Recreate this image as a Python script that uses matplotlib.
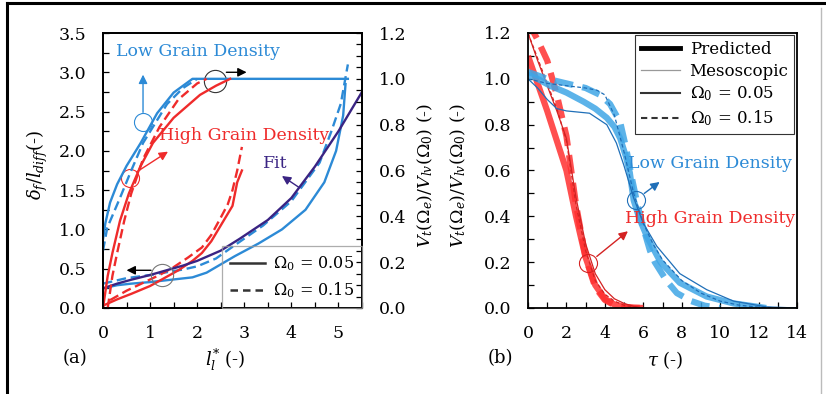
import matplotlib
matplotlib.use('Agg')
import matplotlib.pyplot as plt
from matplotlib.lines import Line2D
from matplotlib.ticker import MultipleLocator, FormatStrFormatter

plt.rcParams['font.family'] = ['DejaVu Serif']
plt.rcParams['mathtext.fontset'] = 'dejavuserif'

# ---------------- data: panel (a) ----------------
# right axis (upper curves): V_t/V_lv vs l*
a_blue_up05_x = [0, 0.05, 0.15, 0.3, 0.5, 0.8, 1.15, 1.5, 1.9, 5.2]
a_blue_up05_y = [0.30, 0.37, 0.46, 0.54, 0.62, 0.72, 0.85, 0.94, 1.0, 1.0]
a_blue_up15_x = [0.0, 0.09, 0.36, 0.6, 0.85, 1.36, 1.7, 2.0]
a_blue_up15_y = [0.25, 0.35, 0.48, 0.60, 0.72, 0.89, 0.96, 1.0]
a_red_up05_x = [0, 0.1, 0.2, 0.36, 0.55, 0.8, 1.06, 1.5, 2.06, 2.4, 2.7]
a_red_up05_y = [0, 0.14, 0.24, 0.38, 0.50, 0.62, 0.72, 0.83, 0.93, 0.97, 1.0]
a_red_up15_x = [0.1, 0.2, 0.3, 0.45, 0.6, 0.85, 1.2, 1.6, 2.0, 2.2]
a_red_up15_y = [0.0, 0.14, 0.24, 0.38, 0.50, 0.65, 0.79, 0.91, 0.98, 1.0]
# left axis (lower curves): delta_f/l_diff vs l*
a_fit_x = [0, 0.3, 0.6, 1.0, 1.35, 1.7, 2.0, 2.5, 2.9, 3.5, 4.0, 4.5, 5.0, 5.5]
a_fit_y = [0.25, 0.31, 0.36, 0.42, 0.48, 0.54, 0.60, 0.73, 0.88, 1.12, 1.40, 1.80, 2.25, 2.75]
a_blue_lo05_x = [0, 0.3, 0.6, 1.0, 1.3, 1.6, 1.9, 2.2, 2.4, 2.8, 3.3, 3.8, 4.3, 4.7, 4.95, 5.1, 5.15]
a_blue_lo05_y = [0.25, 0.29, 0.31, 0.33, 0.35, 0.37, 0.39, 0.45, 0.52, 0.66, 0.82, 1.0, 1.25, 1.6, 2.0, 2.45, 2.85]
a_blue_lo15_x = [0, 0.5, 1.0, 1.3, 1.7, 2.0, 2.4, 2.8, 3.4, 4.0, 4.6, 4.85, 5.05, 5.2]
a_blue_lo15_y = [0.31, 0.38, 0.42, 0.45, 0.49, 0.53, 0.63, 0.80, 1.05, 1.36, 1.85, 2.25, 2.6, 3.1]
a_red_lo05_x = [0, 0.3, 0.6, 1.0, 1.3, 1.6, 1.9, 2.1, 2.3, 2.55, 2.75, 2.85, 2.95]
a_red_lo05_y = [0.03, 0.11, 0.18, 0.28, 0.38, 0.48, 0.60, 0.70, 0.85, 1.1, 1.3, 1.6, 1.75]
a_red_lo15_x = [0.15, 0.5, 0.85, 1.2, 1.5, 1.8, 2.1, 2.3, 2.5, 2.65, 2.75, 2.85, 2.95]
a_red_lo15_y = [0.10, 0.22, 0.32, 0.42, 0.52, 0.64, 0.77, 0.93, 1.15, 1.32, 1.5, 1.75, 2.05]

# ---------------- data: panel (b) ----------------
b_red_tau = [0, 0.5, 1.0, 1.5, 2.0, 2.5, 3.0, 3.5, 4.0, 4.5, 5.0, 5.5, 6.0]
b_red_pred05 = [1.10, 0.98, 0.86, 0.73, 0.60, 0.40, 0.22, 0.10, 0.04, 0.015, 0.005, 0.001, 0.0]
b_red_pred15 = [1.25, 1.17, 1.08, 0.93, 0.75, 0.45, 0.22, 0.09, 0.035, 0.012, 0.004, 0.001, 0.0]
b_red_meso05 = [1.20, 1.08, 0.97, 0.86, 0.74, 0.48, 0.28, 0.15, 0.08, 0.04, 0.02, 0.007, 0.0]
b_red_meso15 = [1.20, 1.09, 0.98, 0.87, 0.73, 0.45, 0.25, 0.12, 0.06, 0.03, 0.012, 0.004, 0.0]

b_blue_pred05_t = [0, 0.5, 1.15, 2.0, 2.9, 3.5, 4.1, 4.5, 4.8, 5.1, 5.3, 5.5, 5.8, 6.2, 6.9, 7.9, 9.3, 10.7, 12.4]
b_blue_pred05_v = [1.02, 1.0, 0.97, 0.94, 0.90, 0.87, 0.83, 0.79, 0.74, 0.66, 0.59, 0.47, 0.39, 0.31, 0.20, 0.11, 0.05, 0.02, 0.0]
b_blue_pred15_t = [0, 1.0, 2.0, 3.0, 3.75, 4.27, 4.8, 5.1, 5.4, 5.7, 6.0, 6.35, 6.6, 7.2, 7.75, 8.5, 9.2, 10]
b_blue_pred15_v = [1.03, 1.0, 0.98, 0.96, 0.93, 0.89, 0.81, 0.70, 0.57, 0.45, 0.35, 0.25, 0.20, 0.12, 0.065, 0.03, 0.01, 0.0]
b_blue_meso05_t = [0, 0.5, 1.0, 1.5, 2.0, 3.2, 4.1, 4.6, 5.0, 5.5, 6.0, 6.7, 7.9, 9.3, 10.7, 12.4, 14]
b_blue_meso05_v = [1.0, 0.96, 0.91, 0.87, 0.86, 0.85, 0.80, 0.72, 0.62, 0.48, 0.37, 0.27, 0.15, 0.08, 0.03, 0.005, 0.0]
b_blue_meso15_t = [0, 1, 2, 3, 3.6, 4.0, 4.5, 5, 5.5, 6, 6.5, 7, 8, 9, 10, 11, 12, 13, 14]
b_blue_meso15_v = [1.0, 0.98, 0.97, 0.96, 0.95, 0.93, 0.84, 0.68, 0.50, 0.37, 0.28, 0.21, 0.12, 0.065, 0.03, 0.012, 0.004, 0.001, 0.0]

# ---------------- styling ----------------
BLUE = '#2c8ad6'
RED = '#ef2b2b'
PURPLE = '#3a2483'
BLUE_T = '#3fa6e6'
BLUE_N = '#1f6fb8'
RED_T = '#ff3030'
RED_N = '#d42222'
DASH = (0, (4, 2))

W, H = 826, 394
fig = plt.figure(figsize=(W / 100, H / 100), dpi=100)

def fx(px):
    return px / W

def fy(py):
    return 1 - py / H

axA = fig.add_axes([fx(103), fy(308), 259 / W, 275 / H])
axA2 = axA.twinx()
axB = fig.add_axes([fx(528), fy(308), 269 / W, 275 / H])

lw = 1.7
# lower curves on left axis
axA.plot(a_blue_lo05_x, a_blue_lo05_y, color=BLUE, lw=lw)
axA.plot(a_blue_lo15_x, a_blue_lo15_y, color=BLUE, lw=lw, ls=DASH)
axA.plot(a_red_lo05_x, a_red_lo05_y, color=RED, lw=lw)
axA.plot(a_red_lo15_x, a_red_lo15_y, color=RED, lw=lw, ls=DASH)
axA.plot(a_fit_x, a_fit_y, color=PURPLE, lw=lw)
# upper curves on right axis
axA2.plot(a_blue_up05_x, a_blue_up05_y, color=BLUE, lw=lw)
axA2.plot(a_blue_up15_x, a_blue_up15_y, color=BLUE, lw=lw, ls=DASH)
axA2.plot(a_red_up05_x, a_red_up05_y, color=RED, lw=lw)
axA2.plot(a_red_up15_x, a_red_up15_y, color=RED, lw=lw, ls=DASH)

axA.set_xlim(0, 5.5)
axA.set_ylim(0, 3.5)
axA2.set_ylim(0, 1.2)
axA.xaxis.set_major_locator(MultipleLocator(1))
axA.xaxis.set_minor_locator(MultipleLocator(0.5))
axA.yaxis.set_major_locator(MultipleLocator(0.5))
axA.yaxis.set_minor_locator(MultipleLocator(0.25))
axA.yaxis.set_major_formatter(FormatStrFormatter('%.1f'))
axA2.yaxis.set_major_locator(MultipleLocator(0.2))
axA2.yaxis.set_minor_locator(MultipleLocator(0.05))
axA2.yaxis.set_major_formatter(FormatStrFormatter('%.1f'))

for ax in (axA, axA2, axB):
    for s in ax.spines.values():
        s.set_linewidth(1.3)
        s.set_color('black')
    ax.tick_params(which='both', direction='in', length=4, width=0.9, labelsize=12.5, pad=12)
axA.tick_params(axis='y', which='both', right=False)
axA.tick_params(axis='x', which='both', top=False)
axA2.tick_params(axis='y', which='both', left=False)

# annotations panel (a)
arr = lambda c: dict(arrowstyle='-|>', color=c, lw=1.0, mutation_scale=13, shrinkA=0, shrinkB=0)
axA.plot([0.85], [2.37], 'o', ms=13, mfc='none', mec=BLUE, mew=0.8)
axA.annotate('', xy=(0.85, 2.97), xytext=(0.85, 2.49), arrowprops=arr(BLUE))
axA.plot([2.38], [2.89], 'o', ms=16, mfc='none', mec='#333333', mew=0.8)
axA.annotate('', xy=(3.05, 3.0), xytext=(2.62, 3.0), arrowprops=arr('black'))
axA.plot([0.57], [1.65], 'o', ms=13, mfc='none', mec=RED, mew=0.8)
axA.annotate('', xy=(1.38, 1.99), xytext=(0.71, 1.73), arrowprops=arr(RED))
axA.plot([1.26], [0.42], 'o', ms=16, mfc='none', mec='#777777', mew=0.8)
axA.annotate('', xy=(0.5, 0.48), xytext=(1.02, 0.48), arrowprops=arr('black'))
axA.annotate('', xy=(3.8, 1.68), xytext=(4.15, 1.54), arrowprops=arr(PURPLE))
axA.text(2.02, 3.26, 'Low Grain Density', color=BLUE, fontsize=12.5, ha='center', va='center')
axA.text(3.0, 2.2, 'High Grain Density', color=RED, fontsize=12.5, ha='center', va='center')
axA.text(3.66, 1.84, 'Fit', color=PURPLE, fontsize=12.5, ha='center', va='center')

hA = [Line2D([], [], color='#333333', lw=1.8, label=r'$\Omega_0$ = 0.05'),
      Line2D([], [], color='#333333', lw=1.8, ls=(0, (3, 2)), label=r'$\Omega_0$ = 0.15')]
legA = axA2.legend(handles=hA, loc='lower right', bbox_to_anchor=(1.0, 0.0), fontsize=11.5,
                   frameon=True, fancybox=False, borderaxespad=0, handlelength=2.2,
                   handletextpad=0.5, labelspacing=0.45, borderpad=0.5)
legA.get_frame().set_facecolor('none')
legA.get_frame().set_edgecolor('#999999')
legA.get_frame().set_linewidth(0.9)

# ---------------- panel (b) ----------------
TW = 4.5
axB.plot(b_red_tau, b_red_pred05, color=RED_T, lw=TW, alpha=0.85, solid_capstyle='butt')
axB.plot(b_red_tau, b_red_pred15, color=RED_T, lw=TW, alpha=0.85, ls=(0, (3, 1.5)))
axB.plot(b_red_tau, b_red_meso05, color=RED_N, lw=0.9)
axB.plot(b_red_tau, b_red_meso15, color=RED_N, lw=0.9, ls=(0, (3, 2)))
axB.plot(b_blue_pred05_t, b_blue_pred05_v, color=BLUE_T, lw=TW, alpha=0.85, solid_capstyle='butt')
axB.plot(b_blue_pred15_t, b_blue_pred15_v, color=BLUE_T, lw=TW, alpha=0.85, ls=(0, (3, 1.5)))
axB.plot(b_blue_meso05_t, b_blue_meso05_v, color=BLUE_N, lw=0.9)
axB.plot(b_blue_meso15_t, b_blue_meso15_v, color=BLUE_N, lw=0.9, ls=(0, (3, 2)))

axB.set_xlim(0, 14)
axB.set_ylim(0, 1.2)
axB.xaxis.set_major_locator(MultipleLocator(2))
axB.xaxis.set_minor_locator(MultipleLocator(1))
axB.yaxis.set_major_locator(MultipleLocator(0.2))
axB.yaxis.set_minor_locator(MultipleLocator(0.1))
axB.yaxis.set_major_formatter(FormatStrFormatter('%.1f'))
axB.tick_params(which='both', top=False, right=False)

axB.plot([5.62], [0.47], 'o', ms=13, mfc='none', mec=BLUE_N, mew=0.8)
axB.annotate('', xy=(6.85, 0.55), xytext=(6.05, 0.50), arrowprops=arr(BLUE_N))
axB.plot([3.12], [0.196], 'o', ms=13, mfc='none', mec=RED_N, mew=0.8)
axB.annotate('', xy=(5.2, 0.335), xytext=(3.58, 0.225), arrowprops=arr(RED_N))
axB.text(9.47, 0.63, 'Low Grain Density', color=BLUE, fontsize=12.5, ha='center', va='center')
axB.text(9.47, 0.39, 'High Grain Density', color=RED, fontsize=12.5, ha='center', va='center')

hB = [Line2D([], [], color='black', lw=3.5, label='Predicted'),
      Line2D([], [], color='#999999', lw=0.9, label='Mesoscopic'),
      Line2D([], [], color='#333333', lw=1.5, label=r'$\Omega_0$ = 0.05'),
      Line2D([], [], color='#333333', lw=1.5, ls=(0, (3, 2)), label=r'$\Omega_0$ = 0.15')]
legB = axB.legend(handles=hB, loc='upper right', bbox_to_anchor=(0.99, 0.993), fontsize=12,
                  frameon=True, fancybox=False, borderaxespad=0, handlelength=2.3,
                  handletextpad=0.6, labelspacing=0.3, borderpad=0.35)
legB.get_frame().set_edgecolor('#333333')
legB.get_frame().set_linewidth(0.8)
legB.get_frame().set_alpha(1)

# ---------------- labels ----------------
fig.text(fx(37), fy(165), r'$\delta_f/l_{diff}$(-)', rotation=90, ha='center', va='center', fontsize=13)
fig.text(fx(225), fy(360), r'$l_l^{*}$ (-)', ha='center', va='center', fontsize=13)
fig.text(fx(75), fy(358), '(a)', ha='center', va='center', fontsize=13)
fig.text(fx(425), fy(175), r'$V_t(\Omega_e)/V_{lv}(\Omega_0)$ (-)', rotation=90, ha='center', va='center', fontsize=12.5)
fig.text(fx(458), fy(175), r'$V_t(\Omega_e)/V_{lv}(\Omega_0)$ (-)', rotation=90, ha='center', va='center', fontsize=12.5)
fig.text(fx(665), fy(360), r'$\tau$ (-)', ha='center', va='center', fontsize=13)
fig.text(fx(500), fy(358), '(b)', ha='center', va='center', fontsize=13)

# figure frame lines
fig.add_artist(Line2D([fx(7), 1], [fy(3), fy(3)], color='black', lw=2.2, transform=fig.transFigure))
fig.add_artist(Line2D([fx(7), fx(7)], [fy(3), 0], color='black', lw=2.2, transform=fig.transFigure))
fig.add_artist(Line2D([fx(821), fx(821)], [fy(8), 0], color='#bbbbbb', lw=1.0, transform=fig.transFigure))

fig.savefig('out.png', dpi=100)
